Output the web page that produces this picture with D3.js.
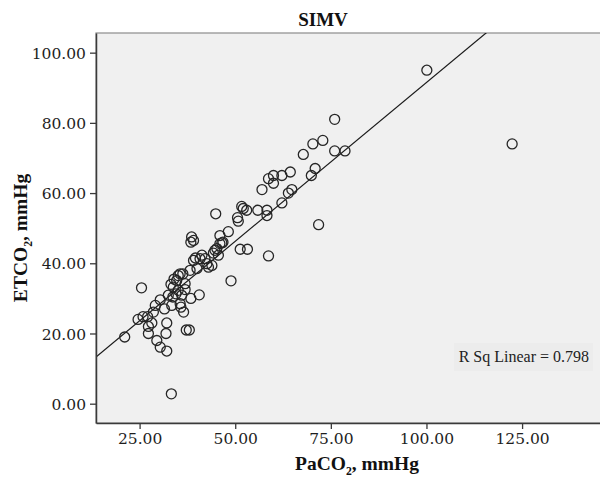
<!DOCTYPE html>
<html>
<head>
<meta charset="utf-8">
<script src="https://cdn.jsdelivr.net/npm/d3@7"></script>
<style>
  body { margin: 0; background: #fff; }
  svg { display: block; }
</style>
</head>
<body>
<svg id="chart" width="600" height="477"></svg>
<script>
/* global d3 */

const chartTitle = "SIMV";

// PaCO2 (mmHg) of each patient
const paco2 = [
  100.1, 76.0, 70.3, 72.9, 67.8, 76.0, 78.7, 70.9, 69.9, 122.4,
  71.8, 64.4, 62.2, 60.0, 58.7, 60.0, 57.0, 64.8, 63.9, 62.2,
  55.9, 58.3, 58.3, 51.7, 52.1, 53.0, 50.6, 50.8, 44.9, 48.2,
  46.0, 46.8, 46.0, 45.2, 44.3, 38.6, 38.4, 51.3, 53.2, 58.7,
  48.9, 40.6, 38.4, 36.5, 37.2, 38.0, 33.3, 32.1, 31.9, 32.1,
  30.4, 29.5, 27.3, 28.2, 27.3, 21.1, 25.5, 24.6, 25.9, 27.1,
  28.6, 29.1, 30.4, 31.5, 33.4, 32.5, 33.7, 34.5, 33.8, 33.2,
  34.7, 35.6, 36.3, 35.1, 36.0, 35.6, 35.8, 36.9, 38.2, 39.1,
  40.8, 42.6, 39.6, 41.3, 42.1, 43.0, 43.9, 44.7, 45.6, 46.5,
  39.1, 35.1, 34.0, 36.9, 40.0
];

// ETCO2 (mmHg), same order
const etco2 = [
  95.0, 81.0, 74.0, 75.0, 71.0, 72.0, 72.0, 67.0, 65.0, 74.0,
  51.0, 66.0, 65.0, 65.0, 64.1, 62.8, 61.0, 61.0, 60.0, 57.2,
  55.1, 55.1, 53.6, 56.2, 55.6, 55.1, 53.0, 52.0, 54.1, 49.0,
  47.9, 46.0, 45.6, 44.2, 42.9, 47.5, 46.0, 44.0, 44.0, 42.1,
  35.0, 31.0, 30.0, 26.1, 21.0, 21.0, 2.8, 15.0, 20.0, 23.0,
  16.1, 18.0, 20.0, 23.0, 22.0, 19.0, 33.0, 24.0, 24.8, 24.8,
  26.1, 28.0, 29.6, 27.0, 28.0, 30.9, 30.4, 31.3, 33.2, 34.0,
  35.1, 37.0, 37.0, 32.3, 30.9, 28.5, 27.5, 34.2, 38.0, 40.8,
  41.3, 39.9, 41.5, 42.3, 41.3, 38.9, 39.4, 43.7, 42.3, 45.8,
  46.5, 36.5, 35.5, 32.5, 38.5
];

// fit line as drawn in the picture
const fitIntercept = 1.0;
const fitSlope = 0.905;
const rSquared = 0.798;

const xTicks = [25, 50, 75, 100, 125];
const yTicks = [0, 20, 40, 60, 80, 100];
const xDomain = [13.6, 150.6];
const yDomain = [-5.5, 105.6];

const points = paco2.map((p, i) => ({ x: p, y: etco2[i] }));

const plot = { left: 96, top: 33, right: 620, bottom: 423 };

const svg = d3.select("#chart");

let x = d3.scaleLinear().domain(xDomain).range([plot.left, plot.right]),
  y = d3.scaleLinear().domain(yDomain).range([plot.bottom, plot.top]);

// plot background and frame
svg.append("rect")
  .attr("x", plot.left).attr("y", plot.top)
  .attr("width", plot.right - plot.left)
  .attr("height", plot.bottom - plot.top)
  .attr("fill", "#f0f0f0")
  .attr("stroke", "#8c8c8c")
  .attr("stroke-width", 1.2);

svg.append("clipPath")
  .attr("id", "plot-clip")
  .append("rect")
  .attr("x", plot.left).attr("y", plot.top)
  .attr("width", plot.right - plot.left)
  .attr("height", plot.bottom - plot.top);

// R Sq label box
let rsq = svg.append("g");
rsq.append("rect")
  .attr("x", 454).attr("y", 343)
  .attr("width", 139).attr("height", 28)
  .attr("fill", "#ececec");
rsq.append("text")
  .attr("x", 589).attr("y", 362)
  .attr("text-anchor", "end")
  .attr("font-family", "Liberation Serif, serif")
  .attr("font-size", 16)
  .attr("fill", "#222")
  .text("R Sq Linear = " + rSquared.toFixed(3));

let g = svg.append("g").attr("clip-path", "url(#plot-clip)");

// fit line across the whole x domain
g.append("line")
  .attr("x1", x(xDomain[0])).attr("y1", y(fitIntercept + fitSlope * xDomain[0]))
  .attr("x2", x(xDomain[1])).attr("y2", y(fitIntercept + fitSlope * xDomain[1]))
  .attr("stroke", "#1a1a1a")
  .attr("stroke-width", 1.2);

g.selectAll("circle.pt")
  .data(points)
  .enter()
  .append("circle")
  .attr("class", "pt")
  .attr("cx", d => x(d.x))
  .attr("cy", d => y(d.y))
  .attr("r", 5)
  .attr("fill", "none")
  .attr("stroke", "#262626")
  .attr("stroke-width", 1.3);

// axes
let fmt = d3.format(".2f");

let gx = svg.append("g")
  .attr("transform", "translate(0," + plot.bottom + ")")
  .call(d3.axisBottom(x).tickValues(xTicks).tickFormat(fmt).tickSize(6).tickSizeOuter(0));

let gy = svg.append("g")
  .attr("transform", "translate(" + plot.left + ",0)")
  .call(d3.axisLeft(y).tickValues(yTicks).tickFormat(fmt).tickSize(6).tickSizeOuter(0));

[gx, gy].forEach(a => {
  a.select(".domain").attr("stroke", "#3a3a3a").attr("stroke-width", 1.5);
  a.selectAll(".tick line").attr("stroke", "#3a3a3a").attr("stroke-width", 1.3);
  a.selectAll(".tick text")
    .attr("font-family", "DejaVu Serif, serif")
    .attr("font-size", 15.5)
    .attr("fill", "#1e1e1e");
});
gx.selectAll(".tick text").attr("y", 10).attr("dy", "0.71em");
gy.selectAll(".tick text").attr("x", -10).attr("dy", "0.36em");

// title
svg.append("text")
  .attr("x", 323).attr("y", 26)
  .attr("text-anchor", "middle")
  .attr("font-family", "Liberation Serif, serif")
  .attr("font-weight", "bold")
  .attr("font-size", 19)
  .attr("fill", "#111")
  .text(chartTitle);

/** axis label with a subscript 2, e.g. PaCO₂ */
function subLabel(sel, pre, post) {
  sel.append("tspan").text(pre);
  sel.append("tspan").attr("font-size", "0.6em").attr("dy", "0.45em").text("2");
  sel.append("tspan").attr("dy", "-0.27em").text(post);
}

let xl = svg.append("text")
  .attr("x", 357).attr("y", 470)
  .attr("text-anchor", "middle")
  .attr("font-family", "Liberation Serif, serif")
  .attr("font-weight", "bold")
  .attr("font-size", 19.5)
  .attr("fill", "#111");
subLabel(xl, "PaCO", ", mmHg");

let yl = svg.append("text")
  .attr("transform", "translate(27,238) rotate(-90)")
  .attr("text-anchor", "middle")
  .attr("font-family", "Liberation Serif, serif")
  .attr("font-weight", "bold")
  .attr("font-size", 19.5)
  .attr("fill", "#111");
subLabel(yl, "ETCO", ", mmHg");
</script>
</body>
</html>
